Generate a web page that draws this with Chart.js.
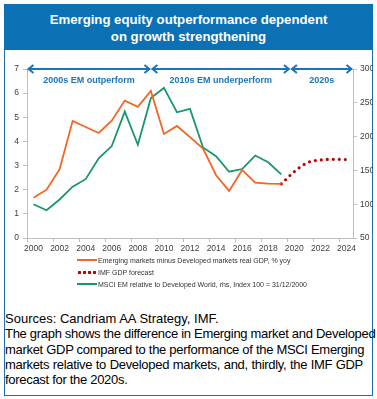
<!DOCTYPE html>
<html>
  <head>
    <title>Emerging equity outperformance</title>
    <script src="https://cdn.jsdelivr.net/npm/chart.js"></script>
    <style>
      body {
        margin: 0;
        background: white;
        font-family: "Liberation Sans", Arial, sans-serif;
      }
      .frame {
        position: absolute;
        left: 4px;
        top: 4px;
        width: 367px;
        height: 390px;
        border: 1.5px solid #1f6fb2;
      }
      .title {
        position: absolute;
        left: 4px;
        top: 4px;
        width: 369px;
        height: 46px;
        background: #0c70b4;
        color: white;
        font-weight: bold;
        font-size: 13.2px;
        line-height: 17px;
        text-align: center;
        padding-top: 7px;
        box-sizing: border-box;
      }
      .chart-box {
        position: absolute;
        left: 0;
        top: 50px;
        width: 377px;
        height: 205px;
      }
      .legend {
        position: absolute;
        left: 77px;
        top: 254px;
        font-size: 7px;
        color: #333;
      }
      .legend div {
        height: 12px;
        display: flex;
        align-items: center;
      }
      .legend span.mark {
        display: inline-block;
        width: 20px;
        height: 2px;
        margin-right: 1px;
      }
      .notes {
        position: absolute;
        left: 5px;
        top: 311px;
        font-size: 13px;
        line-height: 15.3px;
        color: #000;
        white-space: nowrap;
      }
      .notes .j {
        width: 358px;
        letter-spacing: -0.3px;
        text-align: justify;
        text-align-last: justify;
      }
    </style>
  </head>
  <body>
    <div class="frame"></div>
    <div class="title">Emerging equity outperformance dependent<br />on growth strengthening</div>
    <div class="chart-box"><canvas id="emChart"></canvas></div>
    <div class="legend" id="legend"></div>
    <div class="notes">
      <div>Sources: Candriam AA Strategy, IMF.</div>
      <div class="j">The graph shows the difference in Emerging market and Developed</div>
      <div class="j">market GDP compared to the performance of the MSCI Emerging</div>
      <div class="j">markets relative to Developed markets, and, thirdly, the IMF GDP</div>
      <div style="letter-spacing: -0.3px">forecast for the 2020s.</div>
    </div>

    <script>
      const years = [];
      for (let y = 2000; y <= 2024; y++) years.push(String(y));

      // EM minus DM real GDP, % yoy (left axis)
      const gdpGap = [1.67, 2.0, 2.85, 4.85, 4.6, 4.35, 4.86, 5.69, 5.43, 6.09, 4.31, 4.64, 4.18, 3.7, 2.6, 1.95, 2.82, 2.29, 2.25, 2.24,
        null, null, null, null, null];
      // IMF GDP forecast (left axis)
      const imfForecast = [null, null, null, null, null, null, null, null, null, null, null, null, null, null, null, null, null, null, null,
        2.24, 2.75, 3.12, 3.23, 3.26, 3.25];
      // MSCI EM relative to DM World, index 100 = 31/12/2000 (right axis)
      const msciRel = [100, 91, 107, 126, 137, 168, 186, 237, 188, 257, 272, 236, 241, 184, 171, 148, 152, 172, 162, 144,
        null, null, null, null, null];

      // period arrows: [from, to, label] in year units
      const periods = [
        [1999.5, 2009.0, "2000s EM outperform"],
        [2009.0, 2019.7, "2010s EM underperform"],
        [2019.7, 2024.5, "2020s"],
      ];

      const blue = "#1a74bd";
      const axisColor = "#bfbfbf";
      const tickFont = { family: "'Liberation Sans', Arial", size: 8.5 };

      const periodArrows = {
        id: "periodArrows",
        afterDatasetsDraw(chart) {
          const { ctx, scales } = chart;
          const x = scales.x;
          const yTop = chart.chartArea.top;
          const step = x.getPixelForValue(1) - x.getPixelForValue(0);
          const px = (yr) => x.getPixelForValue(Math.floor(yr) - 2000) + (yr - Math.floor(yr)) * step;
          ctx.save();
          ctx.strokeStyle = blue;
          ctx.fillStyle = blue;
          ctx.lineWidth = 2;
          periods.forEach(([a, b, label]) => {
            const x1 = px(a) + 1.5, x2 = px(b) - 1.5;
            ctx.beginPath();
            ctx.moveTo(x1, yTop);
            ctx.lineTo(x2, yTop);
            ctx.moveTo(x1 + 5, yTop - 4);
            ctx.lineTo(x1, yTop);
            ctx.lineTo(x1 + 5, yTop + 4);
            ctx.moveTo(x2 - 5, yTop - 4);
            ctx.lineTo(x2, yTop);
            ctx.lineTo(x2 - 5, yTop + 4);
            ctx.stroke();
            ctx.font = "bold 9px 'Liberation Sans', Arial";
            ctx.textAlign = "center";
            ctx.textBaseline = "middle";
            ctx.fillText(label, (x1 + x2) / 2, yTop + 12);
          });
          ctx.restore();
        },
      };

      const chart = new Chart(document.getElementById("emChart"), {
        type: "line",
        data: {
          labels: years,
          datasets: [
            {
              label: "Emerging markets minus Developed markets real GDP, % yoy",
              data: gdpGap,
              borderColor: "#f26522",
              borderWidth: 1.8,
              pointRadius: 0,
              yAxisID: "y",
            },
            {
              label: "IMF GDP forecast",
              data: imfForecast,
              borderColor: "#c00000",
              borderWidth: 3.2,
              borderDash: [0, 6],
              borderCapStyle: "round",
              cubicInterpolationMode: "monotone",
              pointRadius: 0,
              yAxisID: "y",
            },
            {
              label: "MSCI EM relative to Developed World, rhs, Index 100 = 31/12/2000",
              data: msciRel,
              borderColor: "#17976a",
              borderWidth: 1.8,
              pointRadius: 0,
              yAxisID: "y1",
            },
          ],
        },
        options: {
          responsive: true,
          maintainAspectRatio: false,
          animation: false,
          layout: { padding: { top: 19, right: 4, left: 0, bottom: 0 } },
          plugins: { legend: { display: false }, tooltip: { enabled: false } },
          scales: {
            x: {
              offset: true,
              grid: {
                offset: true,
                drawOnChartArea: false,
                tickLength: 4,
                color: (c) => (c.index % 2 === 0 ? axisColor : "transparent"),
              },
              border: { color: axisColor },
              ticks: {
                autoSkip: false,
                maxRotation: 0,
                padding: 2,
                color: "#404040",
                font: tickFont,
                callback: (v, i) => (i % 2 === 0 ? years[i] : ""),
              },
              afterFit: (s) => { s.height = 17; },
            },
            y: {
              position: "left",
              min: 0,
              max: 7,
              ticks: { stepSize: 1, color: "#404040", font: tickFont, padding: 4 },
              grid: { drawOnChartArea: false, tickLength: 4, color: axisColor },
              border: { color: axisColor },
              afterFit: (s) => { s.width = 27; },
            },
            y1: {
              position: "right",
              min: 50,
              max: 300,
              ticks: { stepSize: 50, color: "#404040", font: tickFont, padding: 3 },
              grid: { drawOnChartArea: false, tickLength: 4, color: axisColor },
              border: { color: axisColor },
              afterFit: (s) => { s.width = 20; },
            },
          },
        },
        plugins: [periodArrows],
      });

      // legend built from the chart's datasets
      const legend = document.getElementById("legend");
      chart.data.datasets.forEach((ds) => {
        const row = document.createElement("div");
        const mark = document.createElement("span");
        mark.className = "mark";
        if (ds.borderDash) {
          mark.style.height = "3px";
          mark.style.background = "radial-gradient(circle, " + ds.borderColor + " 1.4px, transparent 1.6px) 0 0 / 5px 3px repeat-x";
        } else {
          mark.style.background = ds.borderColor;
        }
        row.appendChild(mark);
        row.appendChild(document.createTextNode(ds.label));
        legend.appendChild(row);
      });
    </script>
  </body>
</html>
